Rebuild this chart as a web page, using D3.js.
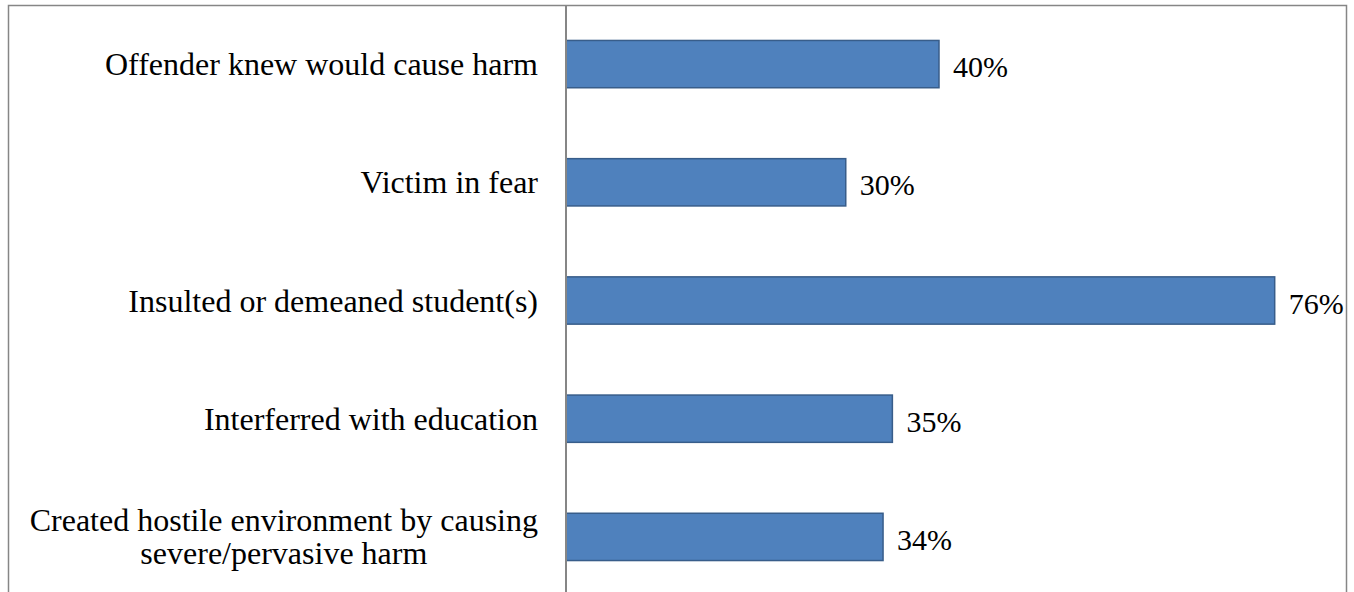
<!DOCTYPE html>
<html>
<head>
<meta charset="utf-8">
<script src="https://cdn.jsdelivr.net/npm/d3@7"></script>
<style>
  html, body { margin: 0; padding: 0; background: #fff; }
  svg { display: block; }
</style>
</head>
<body>
<svg id="chart" width="1354" height="592"></svg>
<script>
// Share of incidents meeting each harassment criterion
const categories = [
  ["Offender knew would cause harm"],
  ["Victim in fear"],
  ["Insulted or demeaned student(s)"],
  ["Interferred with education"],
  ["Created hostile environment by causing", "severe/pervasive harm"]
];
const values = [40, 30, 76, 35, 34];
const valueLabels = ["40%", "30%", "76%", "35%", "34%"];
const xDomain = [0, 80];

const FONT = "'Liberation Serif', 'Times New Roman', Times, serif";
const svg = d3.select("#chart");
const W = 1354, H = 592;

// Outer chart frame (bottom edge falls below the visible area)
svg.append("rect")
  .attr("x", 8.5).attr("y", 5.5)
  .attr("width", 1346 - 8).attr("height", H + 20)
  .attr("fill", "#fff")
  .attr("stroke", "#868686").attr("stroke-width", 1.5);

const plot = { left: 566, top: 5, bottom: 596 };

const x = d3.scaleLinear().domain(xDomain).range([plot.left, 1312]);
const y = d3.scaleBand()
  .domain(d3.range(categories.length))
  .range([plot.top, plot.bottom])
  .paddingInner(0.6)
  .paddingOuter(0.3);

// Bars
svg.append("g").selectAll("rect")
  .data(values)
  .join("rect")
  .attr("x", x(0))
  .attr("y", (d, i) => y(i))
  .attr("width", d => x(d) - x(0))
  .attr("height", y.bandwidth())
  .attr("fill", "#4F81BD")
  .attr("stroke", "#385D8A")
  .attr("stroke-width", 1.5);

// Category axis line
svg.append("line")
  .attr("x1", x(0)).attr("x2", x(0))
  .attr("y1", 5).attr("y2", H)
  .attr("stroke", "#868686").attr("stroke-width", 2);

// Category labels, right-aligned block, lines centred within it
const labelRight = x(0) - 28;
const lineGap = 33;
const catSize = 32;
const catG = svg.append("g")
  .attr("font-family", FONT)
  .attr("font-size", catSize)
  .attr("fill", "#000");
categories.forEach((lines, i) => {
  const cy = y(i) + y.bandwidth() / 2;
  const t = catG.append("text");
  const n = lines.length;
  const firstBase = cy + 11 - (n - 1) * lineGap / 2;
  if (n === 1) {
    t.attr("text-anchor", "end")
      .attr("x", labelRight).attr("y", firstBase).text(lines[0]);
  } else {
    // widest line sets the block width so the lines centre within it
    const tmp = catG.append("text");
    let maxW = 0;
    lines.forEach(l => { tmp.text(l); maxW = Math.max(maxW, tmp.node().getComputedTextLength()); });
    tmp.remove();
    const cx = labelRight - maxW / 2;
    t.attr("text-anchor", "middle");
    lines.forEach((l, k) => {
      t.append("tspan").attr("x", cx).attr("y", firstBase + k * lineGap).text(l);
    });
  }
});

// Value labels
svg.append("g")
  .attr("font-family", FONT)
  .attr("font-size", 30)
  .attr("fill", "#000")
  .selectAll("text")
  .data(values)
  .join("text")
  .attr("x", d => x(d) + 14)
  .attr("y", (d, i) => y(i) + y.bandwidth() / 2 + 13)
  .text((d, i) => valueLabels[i]);
</script>
</body>
</html>
